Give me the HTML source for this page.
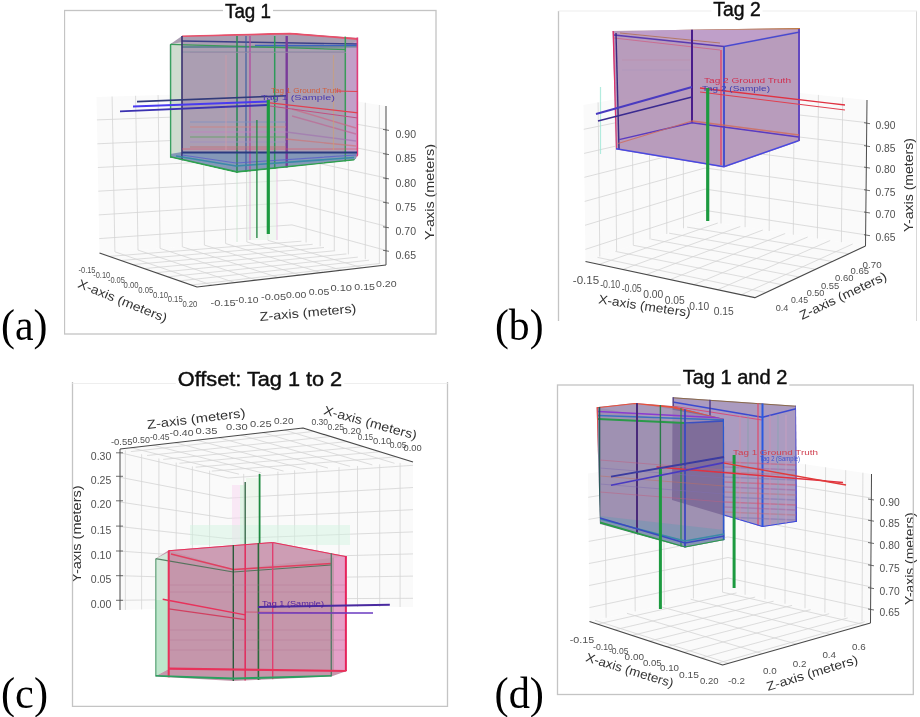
<!DOCTYPE html><html><head><meta charset="utf-8"><style>html,body{margin:0;padding:0;background:#fff;width:920px;height:717px;overflow:hidden}svg{display:block}</style></head><body>
<svg width="920" height="717" viewBox="0 0 920 717">
<defs><filter id="blur" x="0" y="0" width="1" height="1"><feGaussianBlur stdDeviation="0.55"/></filter></defs>
<rect width="920" height="717" fill="#fff"/>
<g filter="url(#blur)">
<g id="pa">
<polygon points="99.5,253.0 292.0,238.5 292.0,91.0 96.5,97.0" fill="#fafafa" stroke="none" stroke-width="1" opacity="1" />
<polygon points="292.0,238.5 386.0,265.0 386.0,106.0 292.0,91.0" fill="#fafafa" stroke="none" stroke-width="1" opacity="1" />
<polygon points="99.5,253.0 197.0,287.0 386.0,265.0 292.0,238.5" fill="#fafafa" stroke="none" stroke-width="1" opacity="1" />
<line x1="114.9" y1="251.8" x2="112.1" y2="96.5" stroke="#d4d4d4" stroke-width="0.8" opacity="1" />
<line x1="138.0" y1="250.1" x2="135.6" y2="95.8" stroke="#d4d4d4" stroke-width="0.8" opacity="1" />
<line x1="160.1" y1="248.4" x2="158.1" y2="95.1" stroke="#d4d4d4" stroke-width="0.8" opacity="1" />
<line x1="182.3" y1="246.8" x2="180.6" y2="94.4" stroke="#d4d4d4" stroke-width="0.8" opacity="1" />
<line x1="204.4" y1="245.1" x2="203.0" y2="93.7" stroke="#d4d4d4" stroke-width="0.8" opacity="1" />
<line x1="225.6" y1="243.5" x2="224.6" y2="93.1" stroke="#d4d4d4" stroke-width="0.8" opacity="1" />
<line x1="246.8" y1="241.9" x2="246.1" y2="92.4" stroke="#d4d4d4" stroke-width="0.8" opacity="1" />
<line x1="267.9" y1="240.3" x2="267.6" y2="91.8" stroke="#d4d4d4" stroke-width="0.8" opacity="1" />
<line x1="99.2" y1="238.6" x2="292.0" y2="224.9" stroke="#d4d4d4" stroke-width="0.8" opacity="1" />
<line x1="98.8" y1="214.9" x2="292.0" y2="202.5" stroke="#d4d4d4" stroke-width="0.8" opacity="1" />
<line x1="98.3" y1="191.2" x2="292.0" y2="180.1" stroke="#d4d4d4" stroke-width="0.8" opacity="1" />
<line x1="97.9" y1="167.5" x2="292.0" y2="157.7" stroke="#d4d4d4" stroke-width="0.8" opacity="1" />
<line x1="97.4" y1="143.8" x2="292.0" y2="135.2" stroke="#d4d4d4" stroke-width="0.8" opacity="1" />
<line x1="96.9" y1="119.9" x2="292.0" y2="112.7" stroke="#d4d4d4" stroke-width="0.8" opacity="1" />
<line x1="306.1" y1="242.5" x2="306.1" y2="93.2" stroke="#d4d4d4" stroke-width="0.8" opacity="1" />
<line x1="320.2" y1="246.4" x2="320.2" y2="95.5" stroke="#d4d4d4" stroke-width="0.8" opacity="1" />
<line x1="334.3" y1="250.4" x2="334.3" y2="97.8" stroke="#d4d4d4" stroke-width="0.8" opacity="1" />
<line x1="348.4" y1="254.4" x2="348.4" y2="100.0" stroke="#d4d4d4" stroke-width="0.8" opacity="1" />
<line x1="365.3" y1="259.2" x2="365.3" y2="102.7" stroke="#d4d4d4" stroke-width="0.8" opacity="1" />
<line x1="379.4" y1="263.1" x2="379.4" y2="105.0" stroke="#d4d4d4" stroke-width="0.8" opacity="1" />
<line x1="292.0" y1="224.9" x2="386.0" y2="250.4" stroke="#d4d4d4" stroke-width="0.8" opacity="1" />
<line x1="292.0" y1="202.5" x2="386.0" y2="226.2" stroke="#d4d4d4" stroke-width="0.8" opacity="1" />
<line x1="292.0" y1="180.1" x2="386.0" y2="202.0" stroke="#d4d4d4" stroke-width="0.8" opacity="1" />
<line x1="292.0" y1="157.7" x2="386.0" y2="177.9" stroke="#d4d4d4" stroke-width="0.8" opacity="1" />
<line x1="292.0" y1="135.2" x2="386.0" y2="153.7" stroke="#d4d4d4" stroke-width="0.8" opacity="1" />
<line x1="292.0" y1="112.7" x2="386.0" y2="129.4" stroke="#d4d4d4" stroke-width="0.8" opacity="1" />
<line x1="109.2" y1="256.4" x2="301.4" y2="241.2" stroke="#d4d4d4" stroke-width="0.8" opacity="1" />
<line x1="121.0" y1="260.5" x2="312.7" y2="244.3" stroke="#d4d4d4" stroke-width="0.8" opacity="1" />
<line x1="132.7" y1="264.6" x2="324.0" y2="247.5" stroke="#d4d4d4" stroke-width="0.8" opacity="1" />
<line x1="144.3" y1="268.6" x2="335.2" y2="250.7" stroke="#d4d4d4" stroke-width="0.8" opacity="1" />
<line x1="156.1" y1="272.7" x2="346.5" y2="253.9" stroke="#d4d4d4" stroke-width="0.8" opacity="1" />
<line x1="167.8" y1="276.8" x2="357.8" y2="257.1" stroke="#d4d4d4" stroke-width="0.8" opacity="1" />
<line x1="179.4" y1="280.9" x2="369.1" y2="260.2" stroke="#d4d4d4" stroke-width="0.8" opacity="1" />
<line x1="191.1" y1="285.0" x2="380.4" y2="263.4" stroke="#d4d4d4" stroke-width="0.8" opacity="1" />
<line x1="114.9" y1="251.8" x2="212.1" y2="285.2" stroke="#d4d4d4" stroke-width="0.8" opacity="1" />
<line x1="138.0" y1="250.1" x2="234.8" y2="282.6" stroke="#d4d4d4" stroke-width="0.8" opacity="1" />
<line x1="160.1" y1="248.4" x2="256.5" y2="280.1" stroke="#d4d4d4" stroke-width="0.8" opacity="1" />
<line x1="182.3" y1="246.8" x2="278.3" y2="277.5" stroke="#d4d4d4" stroke-width="0.8" opacity="1" />
<line x1="204.4" y1="245.1" x2="300.0" y2="275.0" stroke="#d4d4d4" stroke-width="0.8" opacity="1" />
<line x1="225.6" y1="243.5" x2="320.8" y2="272.6" stroke="#d4d4d4" stroke-width="0.8" opacity="1" />
<line x1="246.8" y1="241.9" x2="341.6" y2="270.2" stroke="#d4d4d4" stroke-width="0.8" opacity="1" />
<line x1="267.9" y1="240.3" x2="362.4" y2="267.8" stroke="#d4d4d4" stroke-width="0.8" opacity="1" />
<polyline points="99.5,253.0 197.0,287.0 386.0,265.0" fill="none" stroke="#4a4a4a" stroke-width="1.2" opacity="1" stroke-linejoin="round"/>
<line x1="386.0" y1="265.0" x2="386.0" y2="106.0" stroke="#4a4a4a" stroke-width="1.0" opacity="1" />
<line x1="383.0" y1="129.4" x2="389.0" y2="130.4" stroke="#4a4a4a" stroke-width="0.8" opacity="1" />
<text x="395.5" y="138.0" font-size="10.8" fill="#505050" text-anchor="start" font-family="Liberation Sans" textLength="20.5" lengthAdjust="spacingAndGlyphs" >0.90</text>
<line x1="383.0" y1="153.6" x2="389.0" y2="154.6" stroke="#4a4a4a" stroke-width="0.8" opacity="1" />
<text x="395.5" y="162.2" font-size="10.8" fill="#505050" text-anchor="start" font-family="Liberation Sans" textLength="20.5" lengthAdjust="spacingAndGlyphs" >0.85</text>
<line x1="383.0" y1="177.9" x2="389.0" y2="178.9" stroke="#4a4a4a" stroke-width="0.8" opacity="1" />
<text x="395.5" y="186.5" font-size="10.8" fill="#505050" text-anchor="start" font-family="Liberation Sans" textLength="20.5" lengthAdjust="spacingAndGlyphs" >0.80</text>
<line x1="383.0" y1="202.2" x2="389.0" y2="203.2" stroke="#4a4a4a" stroke-width="0.8" opacity="1" />
<text x="395.5" y="210.79999999999998" font-size="10.8" fill="#505050" text-anchor="start" font-family="Liberation Sans" textLength="20.5" lengthAdjust="spacingAndGlyphs" >0.75</text>
<line x1="383.0" y1="226.8" x2="389.0" y2="227.8" stroke="#4a4a4a" stroke-width="0.8" opacity="1" />
<text x="395.5" y="235.4" font-size="10.8" fill="#505050" text-anchor="start" font-family="Liberation Sans" textLength="20.5" lengthAdjust="spacingAndGlyphs" >0.70</text>
<line x1="383.0" y1="250.3" x2="389.0" y2="251.3" stroke="#4a4a4a" stroke-width="0.8" opacity="1" />
<text x="395.5" y="258.90000000000003" font-size="10.8" fill="#505050" text-anchor="start" font-family="Liberation Sans" textLength="20.5" lengthAdjust="spacingAndGlyphs" >0.65</text>
<text x="434" y="240" font-size="12.5" fill="#333" text-anchor="start" font-family="Liberation Sans" transform="rotate(-90 434 240)" textLength="96" lengthAdjust="spacingAndGlyphs" >Y-axis (meters)</text>
<text x="87.0" y="273.0" font-size="9.5" fill="#505050" text-anchor="middle" font-family="Liberation Sans" textLength="17" lengthAdjust="spacingAndGlyphs" >-0.15</text>
<text x="101.7" y="277.9" font-size="9.5" fill="#505050" text-anchor="middle" font-family="Liberation Sans" textLength="17" lengthAdjust="spacingAndGlyphs" >-0.10</text>
<text x="116.4" y="282.8" font-size="9.5" fill="#505050" text-anchor="middle" font-family="Liberation Sans" textLength="17" lengthAdjust="spacingAndGlyphs" >-0.05</text>
<text x="131.1" y="287.7" font-size="9.5" fill="#505050" text-anchor="middle" font-family="Liberation Sans" textLength="15" lengthAdjust="spacingAndGlyphs" >0.00</text>
<text x="145.8" y="292.6" font-size="9.5" fill="#505050" text-anchor="middle" font-family="Liberation Sans" textLength="15" lengthAdjust="spacingAndGlyphs" >0.05</text>
<text x="160.5" y="297.5" font-size="9.5" fill="#505050" text-anchor="middle" font-family="Liberation Sans" textLength="15" lengthAdjust="spacingAndGlyphs" >0.10</text>
<text x="175.2" y="302.4" font-size="9.5" fill="#505050" text-anchor="middle" font-family="Liberation Sans" textLength="15" lengthAdjust="spacingAndGlyphs" >0.15</text>
<text x="189.89999999999998" y="307.3" font-size="9.5" fill="#505050" text-anchor="middle" font-family="Liberation Sans" textLength="15" lengthAdjust="spacingAndGlyphs" >0.20</text>
<text x="77" y="287" font-size="12.5" fill="#333" text-anchor="start" font-family="Liberation Sans" transform="rotate(22 77 287)" textLength="95" lengthAdjust="spacingAndGlyphs" >X-axis (meters)</text>
<text x="210.5" y="305.7" font-size="9.5" fill="#505050" text-anchor="start" font-family="Liberation Sans" textLength="25.19999999999999" lengthAdjust="spacingAndGlyphs" >-0.15</text>
<text x="235" y="303.4" font-size="9.5" fill="#505050" text-anchor="start" font-family="Liberation Sans" textLength="23.5" lengthAdjust="spacingAndGlyphs" >-0.10</text>
<text x="261" y="300" font-size="9.5" fill="#505050" text-anchor="start" font-family="Liberation Sans" textLength="25" lengthAdjust="spacingAndGlyphs" >-0.05</text>
<text x="286" y="297.7" font-size="9.5" fill="#505050" text-anchor="start" font-family="Liberation Sans" textLength="20.399999999999977" lengthAdjust="spacingAndGlyphs" >0.00</text>
<text x="308.7" y="295.4" font-size="9.5" fill="#505050" text-anchor="start" font-family="Liberation Sans" textLength="20.600000000000023" lengthAdjust="spacingAndGlyphs" >0.05</text>
<text x="330.4" y="291" font-size="9.5" fill="#505050" text-anchor="start" font-family="Liberation Sans" textLength="21.600000000000023" lengthAdjust="spacingAndGlyphs" >0.10</text>
<text x="354.3" y="289.7" font-size="9.5" fill="#505050" text-anchor="start" font-family="Liberation Sans" textLength="20.69999999999999" lengthAdjust="spacingAndGlyphs" >0.15</text>
<text x="376" y="287.4" font-size="9.5" fill="#505050" text-anchor="start" font-family="Liberation Sans" textLength="20.600000000000023" lengthAdjust="spacingAndGlyphs" >0.20</text>
<text x="260" y="321" font-size="12.5" fill="#333" text-anchor="start" font-family="Liberation Sans" transform="rotate(-5 260 321)" textLength="97" lengthAdjust="spacingAndGlyphs" >Z-axis (meters)</text>
<rect x="247" y="160" width="30" height="80" fill="#e6f6e8" opacity="0.5"/>
<line x1="250.0" y1="160.0" x2="250.0" y2="240.0" stroke="#e0a0d8" stroke-width="1.0" opacity="0.7" />
<line x1="277.0" y1="160.0" x2="277.0" y2="240.0" stroke="#e8b0e0" stroke-width="1.0" opacity="0.7" />
<line x1="237.0" y1="165.0" x2="237.0" y2="242.0" stroke="#c0e0c8" stroke-width="1.0" opacity="0.7" />
<defs><clipPath id="ca"><polygon points="169.8,44.4 182,35.5 290,32.5 358.5,37.5 358.5,155 354,160.5 236.7,173 169.8,157.5"/></clipPath></defs>
<polygon points="169.8,44.4 182.0,36.0 290.0,33.0 358.0,38.0 358.0,155.0 354.0,160.0 236.7,172.0 170.0,157.0" fill="#ab9eb2" stroke="none" stroke-width="1" opacity="1" />
<polygon points="169.8,44.4 182.0,42.0 182.0,152.0 170.0,157.0" fill="#cfdccf" stroke="none" stroke-width="1" opacity="1" />
<polygon points="346.0,47.0 358.0,40.0 358.0,152.0 346.0,152.0" fill="#c29fc8" stroke="none" stroke-width="1" opacity="1" />
<polygon points="170.0,154.0 182.0,152.0 357.0,152.0 356.0,159.0 236.7,172.0 170.0,157.0" fill="#8498b8" stroke="none" stroke-width="1" opacity="1" />
<g clip-path="url(#ca)">
<polyline points="182.0,36.0 290.0,33.5 358.0,39.0" fill="none" stroke="#e8506a" stroke-width="1.8" opacity="1" stroke-linejoin="round"/>
<line x1="182.0" y1="47.0" x2="358.0" y2="46.5" stroke="#4a7a8a" stroke-width="2.2" opacity="0.7" />
<line x1="182.0" y1="41.0" x2="358.0" y2="44.0" stroke="#3a3f88" stroke-width="1.4" opacity="1" />
<line x1="255.0" y1="45.3" x2="358.0" y2="45.3" stroke="#3a64c0" stroke-width="1.2" opacity="1" />
<line x1="170.0" y1="44.4" x2="346.0" y2="49.5" stroke="#3a9a5a" stroke-width="1.4" opacity="1" />
<line x1="182.0" y1="52.0" x2="346.0" y2="52.0" stroke="#6a8a9a" stroke-width="1.0" opacity="0.6" />
<line x1="170.5" y1="36.0" x2="170.5" y2="175.0" stroke="#38a060" stroke-width="1.6" opacity="1" />
<line x1="182.0" y1="36.0" x2="182.0" y2="175.0" stroke="#3a3070" stroke-width="1.6" opacity="1" />
<line x1="237.0" y1="36.0" x2="237.0" y2="175.0" stroke="#2e8a5a" stroke-width="1.6" opacity="1" />
<line x1="246.0" y1="36.0" x2="246.0" y2="175.0" stroke="#4060a0" stroke-width="1.2" opacity="1" />
<line x1="250.0" y1="36.0" x2="250.0" y2="175.0" stroke="#b050a0" stroke-width="1.4" opacity="1" />
<line x1="274.7" y1="36.0" x2="274.7" y2="175.0" stroke="#2e9a5a" stroke-width="1.5" opacity="1" />
<line x1="286.7" y1="36.0" x2="286.7" y2="175.0" stroke="#7a3a9a" stroke-width="2.4" opacity="1" />
<line x1="345.3" y1="36.0" x2="345.3" y2="175.0" stroke="#3a9a5a" stroke-width="1.5" opacity="1" />
<line x1="357.5" y1="36.0" x2="357.5" y2="175.0" stroke="#e03a7a" stroke-width="1.8" opacity="1" />
<line x1="182.0" y1="152.5" x2="357.0" y2="152.5" stroke="#2a3a80" stroke-width="1.8" opacity="1" />
<polyline points="176.0,156.0 236.0,166.0 354.0,157.5" fill="none" stroke="#3a8aa8" stroke-width="1.6" opacity="1" stroke-linejoin="round"/>
<polyline points="182.0,155.0 236.0,163.0 356.0,155.0" fill="none" stroke="#5a60c8" stroke-width="1.2" opacity="0.8" stroke-linejoin="round"/>
<polyline points="170.0,157.0 236.7,172.0 355.0,160.0" fill="none" stroke="#2fa050" stroke-width="1.8" opacity="1" stroke-linejoin="round"/>
<line x1="182.0" y1="149.0" x2="358.0" y2="149.0" stroke="#e05060" stroke-width="1.0" opacity="0.6" />
<line x1="190.0" y1="122.0" x2="286.0" y2="122.0" stroke="#8090c0" stroke-width="1.6" opacity="0.55" />
<line x1="190.0" y1="127.0" x2="286.0" y2="127.0" stroke="#d08080" stroke-width="1.6" opacity="0.55" />
<line x1="190.0" y1="132.0" x2="286.0" y2="132.0" stroke="#c080c0" stroke-width="1.6" opacity="0.55" />
<line x1="190.0" y1="137.0" x2="286.0" y2="137.0" stroke="#60a060" stroke-width="1.6" opacity="0.55" />
<line x1="190.0" y1="142.0" x2="286.0" y2="142.0" stroke="#a090c0" stroke-width="1.6" opacity="0.55" />
<line x1="190.0" y1="147.0" x2="286.0" y2="147.0" stroke="#c07070" stroke-width="1.6" opacity="0.55" />
<line x1="292.0" y1="109.0" x2="356.0" y2="128.0" stroke="#d06080" stroke-width="1.4" opacity="0.6" />
<line x1="292.0" y1="116.0" x2="356.0" y2="134.0" stroke="#c06090" stroke-width="1.4" opacity="0.6" />
<line x1="286.0" y1="139.0" x2="356.0" y2="146.0" stroke="#d07070" stroke-width="1.4" opacity="0.6" />
<line x1="286.0" y1="132.0" x2="356.0" y2="141.0" stroke="#a070b0" stroke-width="1.4" opacity="0.6" />
<line x1="190.0" y1="52.4" x2="346.0" y2="52.4" stroke="#9a8aa8" stroke-width="1.2" opacity="0.7" />
<line x1="226.0" y1="55.0" x2="226.0" y2="150.0" stroke="#d09aa8" stroke-width="1.4" opacity="0.6" />
<line x1="333.5" y1="55.0" x2="333.5" y2="150.0" stroke="#d0a070" stroke-width="1.2" opacity="0.6" />
</g>
<line x1="137.0" y1="101.6" x2="286.0" y2="95.8" stroke="#303a7a" stroke-width="1.6" opacity="1" />
<line x1="133.0" y1="106.5" x2="268.0" y2="101.5" stroke="#4a3af0" stroke-width="2.0" opacity="1" />
<line x1="120.0" y1="111.4" x2="268.0" y2="105.0" stroke="#3a30b0" stroke-width="1.8" opacity="1" />
<text x="271" y="93" font-size="7.5" fill="#d06040" text-anchor="start" font-family="Liberation Sans" textLength="70" lengthAdjust="spacingAndGlyphs" >Tag 1 Ground Truth</text>
<line x1="336.0" y1="91.0" x2="358.0" y2="91.5" stroke="#e04050" stroke-width="1.2" opacity="1" />
<line x1="270.0" y1="102.8" x2="358.0" y2="112.9" stroke="#e04050" stroke-width="1.2" opacity="1" />
<line x1="270.0" y1="106.0" x2="358.0" y2="118.0" stroke="#c05080" stroke-width="1.0" opacity="1" />
<text x="261" y="100" font-size="8" fill="#4a3ab0" text-anchor="start" font-family="Liberation Sans" textLength="74" lengthAdjust="spacingAndGlyphs" >Tag 1 (Sample)</text>
<line x1="268.3" y1="100.0" x2="268.3" y2="234.0" stroke="#1e9a40" stroke-width="3.2" opacity="1" />
<line x1="256.9" y1="120.0" x2="256.9" y2="238.0" stroke="#2a8a4a" stroke-width="1.4" opacity="1" />
</g>
<g id="pb">
<polygon points="585.5,261.5 705.0,221.0 705.0,83.0 583.5,105.0" fill="#fafafa" stroke="none" stroke-width="1" opacity="1" />
<polygon points="705.0,221.0 865.5,246.0 867.0,100.0 705.0,83.0" fill="#fafafa" stroke="none" stroke-width="1" opacity="1" />
<polygon points="585.5,261.5 754.8,297.7 865.5,246.0 705.0,221.0" fill="#fafafa" stroke="none" stroke-width="1" opacity="1" />
<line x1="599.8" y1="256.6" x2="598.1" y2="102.4" stroke="#d4d4d4" stroke-width="0.8" opacity="1" />
<line x1="616.6" y1="251.0" x2="615.1" y2="99.3" stroke="#d4d4d4" stroke-width="0.8" opacity="1" />
<line x1="633.3" y1="245.3" x2="632.1" y2="96.2" stroke="#d4d4d4" stroke-width="0.8" opacity="1" />
<line x1="650.0" y1="239.6" x2="649.1" y2="93.1" stroke="#d4d4d4" stroke-width="0.8" opacity="1" />
<line x1="666.8" y1="234.0" x2="666.1" y2="90.0" stroke="#d4d4d4" stroke-width="0.8" opacity="1" />
<line x1="683.5" y1="228.3" x2="683.1" y2="87.0" stroke="#d4d4d4" stroke-width="0.8" opacity="1" />
<line x1="585.3" y1="249.4" x2="705.0" y2="210.4" stroke="#d4d4d4" stroke-width="0.8" opacity="1" />
<line x1="585.0" y1="225.3" x2="705.0" y2="189.1" stroke="#d4d4d4" stroke-width="0.8" opacity="1" />
<line x1="584.7" y1="201.4" x2="705.0" y2="168.0" stroke="#d4d4d4" stroke-width="0.8" opacity="1" />
<line x1="584.4" y1="177.3" x2="705.0" y2="146.8" stroke="#d4d4d4" stroke-width="0.8" opacity="1" />
<line x1="584.1" y1="153.4" x2="705.0" y2="125.6" stroke="#d4d4d4" stroke-width="0.8" opacity="1" />
<line x1="583.8" y1="129.3" x2="705.0" y2="104.4" stroke="#d4d4d4" stroke-width="0.8" opacity="1" />
<line x1="721.0" y1="223.5" x2="721.2" y2="84.7" stroke="#d4d4d4" stroke-width="0.8" opacity="1" />
<line x1="745.1" y1="227.2" x2="745.5" y2="87.2" stroke="#d4d4d4" stroke-width="0.8" opacity="1" />
<line x1="769.2" y1="231.0" x2="769.8" y2="89.8" stroke="#d4d4d4" stroke-width="0.8" opacity="1" />
<line x1="793.3" y1="234.8" x2="794.1" y2="92.3" stroke="#d4d4d4" stroke-width="0.8" opacity="1" />
<line x1="817.4" y1="238.5" x2="818.4" y2="94.9" stroke="#d4d4d4" stroke-width="0.8" opacity="1" />
<line x1="841.4" y1="242.2" x2="842.7" y2="97.5" stroke="#d4d4d4" stroke-width="0.8" opacity="1" />
<line x1="705.0" y1="210.4" x2="865.6" y2="234.8" stroke="#d4d4d4" stroke-width="0.8" opacity="1" />
<line x1="705.0" y1="189.1" x2="865.8" y2="212.3" stroke="#d4d4d4" stroke-width="0.8" opacity="1" />
<line x1="705.0" y1="168.0" x2="866.1" y2="189.9" stroke="#d4d4d4" stroke-width="0.8" opacity="1" />
<line x1="705.0" y1="146.8" x2="866.3" y2="167.5" stroke="#d4d4d4" stroke-width="0.8" opacity="1" />
<line x1="705.0" y1="125.6" x2="866.5" y2="145.1" stroke="#d4d4d4" stroke-width="0.8" opacity="1" />
<line x1="705.0" y1="104.4" x2="866.8" y2="122.6" stroke="#d4d4d4" stroke-width="0.8" opacity="1" />
<line x1="599.0" y1="264.4" x2="717.8" y2="223.0" stroke="#d4d4d4" stroke-width="0.8" opacity="1" />
<line x1="622.7" y1="269.5" x2="740.3" y2="226.5" stroke="#d4d4d4" stroke-width="0.8" opacity="1" />
<line x1="646.4" y1="274.5" x2="762.8" y2="230.0" stroke="#d4d4d4" stroke-width="0.8" opacity="1" />
<line x1="670.1" y1="279.6" x2="785.2" y2="233.5" stroke="#d4d4d4" stroke-width="0.8" opacity="1" />
<line x1="693.9" y1="284.7" x2="807.7" y2="237.0" stroke="#d4d4d4" stroke-width="0.8" opacity="1" />
<line x1="717.6" y1="289.7" x2="830.2" y2="240.5" stroke="#d4d4d4" stroke-width="0.8" opacity="1" />
<line x1="741.3" y1="294.8" x2="852.7" y2="244.0" stroke="#d4d4d4" stroke-width="0.8" opacity="1" />
<line x1="597.5" y1="257.4" x2="765.9" y2="292.5" stroke="#d4d4d4" stroke-width="0.8" opacity="1" />
<line x1="615.4" y1="251.4" x2="782.5" y2="284.8" stroke="#d4d4d4" stroke-width="0.8" opacity="1" />
<line x1="633.3" y1="245.3" x2="799.1" y2="277.0" stroke="#d4d4d4" stroke-width="0.8" opacity="1" />
<line x1="651.2" y1="239.2" x2="815.7" y2="269.3" stroke="#d4d4d4" stroke-width="0.8" opacity="1" />
<line x1="669.1" y1="233.2" x2="832.3" y2="261.5" stroke="#d4d4d4" stroke-width="0.8" opacity="1" />
<line x1="687.1" y1="227.1" x2="848.9" y2="253.8" stroke="#d4d4d4" stroke-width="0.8" opacity="1" />
<polyline points="585.5,261.5 754.8,297.7 865.5,246.0" fill="none" stroke="#4a4a4a" stroke-width="1.2" opacity="1" stroke-linejoin="round"/>
<line x1="865.5" y1="246.0" x2="867.0" y2="100.0" stroke="#4a4a4a" stroke-width="1.0" opacity="1" />
<line x1="864.0" y1="122.7" x2="870.0" y2="123.7" stroke="#4a4a4a" stroke-width="0.8" opacity="1" />
<text x="875.5" y="129.0" font-size="10.8" fill="#505050" text-anchor="start" font-family="Liberation Sans" textLength="20" lengthAdjust="spacingAndGlyphs" >0.90</text>
<line x1="864.0" y1="145.6" x2="870.0" y2="146.6" stroke="#4a4a4a" stroke-width="0.8" opacity="1" />
<text x="875.5" y="151.9" font-size="10.8" fill="#505050" text-anchor="start" font-family="Liberation Sans" textLength="20" lengthAdjust="spacingAndGlyphs" >0.85</text>
<line x1="864.0" y1="167.1" x2="870.0" y2="168.1" stroke="#4a4a4a" stroke-width="0.8" opacity="1" />
<text x="875.5" y="173.4" font-size="10.8" fill="#505050" text-anchor="start" font-family="Liberation Sans" textLength="20" lengthAdjust="spacingAndGlyphs" >0.80</text>
<line x1="864.0" y1="189.7" x2="870.0" y2="190.7" stroke="#4a4a4a" stroke-width="0.8" opacity="1" />
<text x="875.5" y="196.0" font-size="10.8" fill="#505050" text-anchor="start" font-family="Liberation Sans" textLength="20" lengthAdjust="spacingAndGlyphs" >0.75</text>
<line x1="864.0" y1="212.0" x2="870.0" y2="213.0" stroke="#4a4a4a" stroke-width="0.8" opacity="1" />
<text x="875.5" y="218.3" font-size="10.8" fill="#505050" text-anchor="start" font-family="Liberation Sans" textLength="20" lengthAdjust="spacingAndGlyphs" >0.70</text>
<line x1="864.0" y1="234.7" x2="870.0" y2="235.7" stroke="#4a4a4a" stroke-width="0.8" opacity="1" />
<text x="875.5" y="241.0" font-size="10.8" fill="#505050" text-anchor="start" font-family="Liberation Sans" textLength="20" lengthAdjust="spacingAndGlyphs" >0.65</text>
<text x="912.5" y="232" font-size="12.5" fill="#333" text-anchor="start" font-family="Liberation Sans" transform="rotate(-90 912.5 232)" textLength="94" lengthAdjust="spacingAndGlyphs" >Y-axis (meters)</text>
<text x="572.8" y="283.5" font-size="10" fill="#505050" text-anchor="start" font-family="Liberation Sans" textLength="26.4" lengthAdjust="spacingAndGlyphs" >-0.15</text>
<text x="600.2" y="288.4" font-size="10" fill="#505050" text-anchor="start" font-family="Liberation Sans" textLength="20" lengthAdjust="spacingAndGlyphs" >-0.10</text>
<text x="621.7" y="292.3" font-size="10" fill="#505050" text-anchor="start" font-family="Liberation Sans" textLength="20" lengthAdjust="spacingAndGlyphs" >-0.05</text>
<text x="643.3" y="298.2" font-size="10" fill="#505050" text-anchor="start" font-family="Liberation Sans" textLength="20" lengthAdjust="spacingAndGlyphs" >0.00</text>
<text x="664.8" y="304" font-size="10" fill="#505050" text-anchor="start" font-family="Liberation Sans" textLength="20" lengthAdjust="spacingAndGlyphs" >0.05</text>
<text x="689.2" y="309.9" font-size="10" fill="#505050" text-anchor="start" font-family="Liberation Sans" textLength="20" lengthAdjust="spacingAndGlyphs" >0.10</text>
<text x="713.7" y="314.8" font-size="10" fill="#505050" text-anchor="start" font-family="Liberation Sans" textLength="20" lengthAdjust="spacingAndGlyphs" >0.15</text>
<text x="598" y="303.3" font-size="12.5" fill="#333" text-anchor="start" font-family="Liberation Sans" transform="rotate(8.5 598 303.3)" textLength="93" lengthAdjust="spacingAndGlyphs" >X-axis (meters)</text>
<text x="775.7" y="310.7" font-size="9.8" fill="#505050" text-anchor="start" font-family="Liberation Sans" textLength="12.7" lengthAdjust="spacingAndGlyphs" >0.4</text>
<text x="791" y="302.9" font-size="9.8" fill="#505050" text-anchor="start" font-family="Liberation Sans" textLength="17" lengthAdjust="spacingAndGlyphs" >0.45</text>
<text x="806.7" y="295.9" font-size="9.8" fill="#505050" text-anchor="start" font-family="Liberation Sans" textLength="17.7" lengthAdjust="spacingAndGlyphs" >0.50</text>
<text x="820.9" y="288.8" font-size="9.8" fill="#505050" text-anchor="start" font-family="Liberation Sans" textLength="18.3" lengthAdjust="spacingAndGlyphs" >0.55</text>
<text x="835" y="280.7" font-size="9.8" fill="#505050" text-anchor="start" font-family="Liberation Sans" textLength="18.4" lengthAdjust="spacingAndGlyphs" >0.60</text>
<text x="850.5" y="273.6" font-size="9.8" fill="#505050" text-anchor="start" font-family="Liberation Sans" textLength="18.5" lengthAdjust="spacingAndGlyphs" >0.65</text>
<text x="862.6" y="267.7" font-size="9.8" fill="#505050" text-anchor="start" font-family="Liberation Sans" textLength="19" lengthAdjust="spacingAndGlyphs" >0.70</text>
<text x="802" y="320" font-size="12.5" fill="#333" text-anchor="start" font-family="Liberation Sans" transform="rotate(-25.5 802 320)" textLength="95" lengthAdjust="spacingAndGlyphs" >Z-axis (meters)</text>
<defs><clipPath id="cb"><polygon points="612.5,31.0 800.0,28.0 800.0,141.0 724.0,167.5 616.0,149.5"/></clipPath></defs>
<polygon points="612.5,31.0 800.0,28.0 800.0,141.0 724.0,167.5 616.0,149.5" fill="#b89cbc" stroke="none" stroke-width="1" opacity="1" />
<g clip-path="url(#cb)">
<polygon points="614.0,33.0 692.0,28.0 800.0,30.0 724.0,46.5" fill="#c0a0cc" stroke="none" stroke-width="1" opacity="0.8" />
<line x1="612.0" y1="29.5" x2="800.0" y2="28.5" stroke="#c07a40" stroke-width="1.6" opacity="1" />
<line x1="614.0" y1="35.0" x2="724.0" y2="46.5" stroke="#5a3ab0" stroke-width="1.6" opacity="1" />
<line x1="620.0" y1="33.0" x2="720.0" y2="43.0" stroke="#b07050" stroke-width="1.2" opacity="0.8" />
<line x1="724.0" y1="46.5" x2="800.0" y2="32.0" stroke="#4a4ad0" stroke-width="1.6" opacity="1" />
<line x1="614.0" y1="38.0" x2="720.0" y2="50.0" stroke="#d05a80" stroke-width="1.0" opacity="0.7" />
<line x1="613.0" y1="31.0" x2="616.0" y2="149.0" stroke="#e0306a" stroke-width="1.8" opacity="1" />
<line x1="616.0" y1="33.0" x2="619.0" y2="149.0" stroke="#3a2a80" stroke-width="1.4" opacity="1" />
<line x1="799.0" y1="29.0" x2="799.0" y2="141.0" stroke="#5a40c0" stroke-width="1.8" opacity="1" />
<line x1="724.0" y1="46.5" x2="724.0" y2="167.0" stroke="#3a4ad0" stroke-width="1.8" opacity="1" />
<line x1="721.0" y1="50.0" x2="721.0" y2="165.0" stroke="#e04a6a" stroke-width="1.4" opacity="1" />
<line x1="692.0" y1="28.0" x2="692.0" y2="123.0" stroke="#4a1a8a" stroke-width="2.0" opacity="1" />
<polyline points="616.0,149.0 724.0,167.0 798.5,141.0" fill="none" stroke="#4a4ae0" stroke-width="2.0" opacity="1" stroke-linejoin="round"/>
<polyline points="619.0,139.6 692.0,122.8 798.5,137.0" fill="none" stroke="#5a3ac0" stroke-width="1.4" opacity="1" stroke-linejoin="round"/>
<polyline points="618.0,143.5 692.0,121.0 799.0,135.0" fill="none" stroke="#d06a5a" stroke-width="1.3" opacity="0.8" stroke-linejoin="round"/>
<line x1="622.0" y1="60.0" x2="690.0" y2="60.0" stroke="#c08aa0" stroke-width="1.2" opacity="0.4" />
<line x1="622.0" y1="70.0" x2="690.0" y2="70.0" stroke="#a89ac0" stroke-width="1.2" opacity="0.4" />
<line x1="622.0" y1="100.0" x2="690.0" y2="100.0" stroke="#c0a0c0" stroke-width="1.2" opacity="0.4" />
</g>
<line x1="600.5" y1="87.0" x2="600.5" y2="154.0" stroke="#a0e8d8" stroke-width="1.2" opacity="0.8" />
<line x1="596.0" y1="114.0" x2="692.0" y2="87.0" stroke="#4a3ac0" stroke-width="2.0" opacity="1" />
<line x1="598.0" y1="121.0" x2="692.0" y2="97.0" stroke="#3a2a90" stroke-width="1.6" opacity="1" />
<line x1="700.0" y1="88.0" x2="845.0" y2="105.0" stroke="#e03040" stroke-width="1.4" opacity="1" />
<line x1="700.0" y1="92.0" x2="845.0" y2="110.0" stroke="#e04050" stroke-width="1.2" opacity="1" />
<text x="704" y="83" font-size="8" fill="#d03050" text-anchor="start" font-family="Liberation Sans" textLength="87" lengthAdjust="spacingAndGlyphs" >Tag 2 Ground Truth</text>
<text x="702" y="91" font-size="7.5" fill="#4040b0" text-anchor="start" font-family="Liberation Sans" textLength="68" lengthAdjust="spacingAndGlyphs" >Tag 2 (Sample)</text>
<line x1="707.7" y1="88.0" x2="707.7" y2="221.0" stroke="#1e9a40" stroke-width="3.2" opacity="1" />
</g>
<g id="pc">
<polygon points="120.0,449.0 303.0,428.0 413.0,462.0 228.0,475.0" fill="#fafafa" stroke="none" stroke-width="1" opacity="1" />
<polygon points="120.0,610.0 228.0,607.0 228.0,475.0 120.0,449.0" fill="#fafafa" stroke="none" stroke-width="1" opacity="1" />
<polygon points="228.0,607.0 413.0,607.0 413.0,462.0 228.0,475.0" fill="#fafafa" stroke="none" stroke-width="1" opacity="1" />
<line x1="125.4" y1="609.9" x2="125.4" y2="450.3" stroke="#d4d4d4" stroke-width="0.8" opacity="1" />
<line x1="141.6" y1="609.4" x2="141.6" y2="454.2" stroke="#d4d4d4" stroke-width="0.8" opacity="1" />
<line x1="158.9" y1="608.9" x2="158.9" y2="458.4" stroke="#d4d4d4" stroke-width="0.8" opacity="1" />
<line x1="176.2" y1="608.4" x2="176.2" y2="462.5" stroke="#d4d4d4" stroke-width="0.8" opacity="1" />
<line x1="192.4" y1="608.0" x2="192.4" y2="466.4" stroke="#d4d4d4" stroke-width="0.8" opacity="1" />
<line x1="209.6" y1="607.5" x2="209.6" y2="470.6" stroke="#d4d4d4" stroke-width="0.8" opacity="1" />
<line x1="120.0" y1="600.3" x2="228.0" y2="599.1" stroke="#d4d4d4" stroke-width="0.8" opacity="1" />
<line x1="120.0" y1="575.7" x2="228.0" y2="578.9" stroke="#d4d4d4" stroke-width="0.8" opacity="1" />
<line x1="120.0" y1="551.1" x2="228.0" y2="558.7" stroke="#d4d4d4" stroke-width="0.8" opacity="1" />
<line x1="120.0" y1="526.6" x2="228.0" y2="538.6" stroke="#d4d4d4" stroke-width="0.8" opacity="1" />
<line x1="120.0" y1="502.0" x2="228.0" y2="518.4" stroke="#d4d4d4" stroke-width="0.8" opacity="1" />
<line x1="120.0" y1="477.3" x2="228.0" y2="498.2" stroke="#d4d4d4" stroke-width="0.8" opacity="1" />
<line x1="120.0" y1="452.7" x2="228.0" y2="478.0" stroke="#d4d4d4" stroke-width="0.8" opacity="1" />
<line x1="243.7" y1="607.0" x2="243.7" y2="473.9" stroke="#d4d4d4" stroke-width="0.8" opacity="1" />
<line x1="259.4" y1="607.0" x2="259.4" y2="472.8" stroke="#d4d4d4" stroke-width="0.8" opacity="1" />
<line x1="277.9" y1="607.0" x2="277.9" y2="471.5" stroke="#d4d4d4" stroke-width="0.8" opacity="1" />
<line x1="294.6" y1="607.0" x2="294.6" y2="470.3" stroke="#d4d4d4" stroke-width="0.8" opacity="1" />
<line x1="316.8" y1="607.0" x2="316.8" y2="468.8" stroke="#d4d4d4" stroke-width="0.8" opacity="1" />
<line x1="339.0" y1="607.0" x2="339.0" y2="467.2" stroke="#d4d4d4" stroke-width="0.8" opacity="1" />
<line x1="357.5" y1="607.0" x2="357.5" y2="465.9" stroke="#d4d4d4" stroke-width="0.8" opacity="1" />
<line x1="379.7" y1="607.0" x2="379.7" y2="464.3" stroke="#d4d4d4" stroke-width="0.8" opacity="1" />
<line x1="400.1" y1="607.0" x2="400.1" y2="462.9" stroke="#d4d4d4" stroke-width="0.8" opacity="1" />
<line x1="228.0" y1="599.1" x2="413.0" y2="598.3" stroke="#d4d4d4" stroke-width="0.8" opacity="1" />
<line x1="228.0" y1="578.9" x2="413.0" y2="576.1" stroke="#d4d4d4" stroke-width="0.8" opacity="1" />
<line x1="228.0" y1="558.7" x2="413.0" y2="553.9" stroke="#d4d4d4" stroke-width="0.8" opacity="1" />
<line x1="228.0" y1="538.6" x2="413.0" y2="531.9" stroke="#d4d4d4" stroke-width="0.8" opacity="1" />
<line x1="228.0" y1="518.4" x2="413.0" y2="509.7" stroke="#d4d4d4" stroke-width="0.8" opacity="1" />
<line x1="228.0" y1="498.2" x2="413.0" y2="487.5" stroke="#d4d4d4" stroke-width="0.8" opacity="1" />
<line x1="228.0" y1="478.0" x2="413.0" y2="465.3" stroke="#d4d4d4" stroke-width="0.8" opacity="1" />
<line x1="131.0" y1="447.7" x2="239.1" y2="474.2" stroke="#d4d4d4" stroke-width="0.8" opacity="1" />
<line x1="152.9" y1="445.2" x2="261.3" y2="472.7" stroke="#d4d4d4" stroke-width="0.8" opacity="1" />
<line x1="174.9" y1="442.7" x2="283.5" y2="471.1" stroke="#d4d4d4" stroke-width="0.8" opacity="1" />
<line x1="196.9" y1="440.2" x2="305.7" y2="469.5" stroke="#d4d4d4" stroke-width="0.8" opacity="1" />
<line x1="218.8" y1="437.7" x2="327.9" y2="468.0" stroke="#d4d4d4" stroke-width="0.8" opacity="1" />
<line x1="240.8" y1="435.1" x2="350.1" y2="466.4" stroke="#d4d4d4" stroke-width="0.8" opacity="1" />
<line x1="262.7" y1="432.6" x2="372.3" y2="464.9" stroke="#d4d4d4" stroke-width="0.8" opacity="1" />
<line x1="284.7" y1="430.1" x2="394.5" y2="463.3" stroke="#d4d4d4" stroke-width="0.8" opacity="1" />
<line x1="130.8" y1="451.6" x2="314.0" y2="431.4" stroke="#d4d4d4" stroke-width="0.8" opacity="1" />
<line x1="147.0" y1="455.5" x2="330.5" y2="436.5" stroke="#d4d4d4" stroke-width="0.8" opacity="1" />
<line x1="163.2" y1="459.4" x2="347.0" y2="441.6" stroke="#d4d4d4" stroke-width="0.8" opacity="1" />
<line x1="179.4" y1="463.3" x2="363.5" y2="446.7" stroke="#d4d4d4" stroke-width="0.8" opacity="1" />
<line x1="195.6" y1="467.2" x2="380.0" y2="451.8" stroke="#d4d4d4" stroke-width="0.8" opacity="1" />
<line x1="211.8" y1="471.1" x2="396.5" y2="456.9" stroke="#d4d4d4" stroke-width="0.8" opacity="1" />
<polyline points="120.0,449.0 303.0,428.0 413.0,462.0" fill="none" stroke="#4a4a4a" stroke-width="1.2" opacity="1" stroke-linejoin="round"/>
<line x1="120.0" y1="449.0" x2="120.0" y2="610.0" stroke="#4a4a4a" stroke-width="1.0" opacity="1" />
<line x1="116.0" y1="452.8" x2="123.0" y2="452.8" stroke="#4a4a4a" stroke-width="0.8" opacity="1" />
<text x="90.8" y="460.40000000000003" font-size="10.8" fill="#505050" text-anchor="start" font-family="Liberation Sans" textLength="20.5" lengthAdjust="spacingAndGlyphs" >0.30</text>
<line x1="116.0" y1="476.3" x2="123.0" y2="476.3" stroke="#4a4a4a" stroke-width="0.8" opacity="1" />
<text x="90.8" y="483.90000000000003" font-size="10.8" fill="#505050" text-anchor="start" font-family="Liberation Sans" textLength="20.5" lengthAdjust="spacingAndGlyphs" >0.25</text>
<line x1="116.0" y1="500.8" x2="123.0" y2="500.8" stroke="#4a4a4a" stroke-width="0.8" opacity="1" />
<text x="90.8" y="508.40000000000003" font-size="10.8" fill="#505050" text-anchor="start" font-family="Liberation Sans" textLength="20.5" lengthAdjust="spacingAndGlyphs" >0.20</text>
<line x1="116.0" y1="526.1" x2="123.0" y2="526.1" stroke="#4a4a4a" stroke-width="0.8" opacity="1" />
<text x="90.8" y="533.7" font-size="10.8" fill="#505050" text-anchor="start" font-family="Liberation Sans" textLength="20.5" lengthAdjust="spacingAndGlyphs" >0.15</text>
<line x1="116.0" y1="551.0" x2="123.0" y2="551.0" stroke="#4a4a4a" stroke-width="0.8" opacity="1" />
<text x="90.8" y="558.6" font-size="10.8" fill="#505050" text-anchor="start" font-family="Liberation Sans" textLength="20.5" lengthAdjust="spacingAndGlyphs" >0.10</text>
<line x1="116.0" y1="575.7" x2="123.0" y2="575.7" stroke="#4a4a4a" stroke-width="0.8" opacity="1" />
<text x="90.8" y="583.3000000000001" font-size="10.8" fill="#505050" text-anchor="start" font-family="Liberation Sans" textLength="20.5" lengthAdjust="spacingAndGlyphs" >0.05</text>
<line x1="116.0" y1="600.3" x2="123.0" y2="600.3" stroke="#4a4a4a" stroke-width="0.8" opacity="1" />
<text x="90.8" y="607.9" font-size="10.8" fill="#505050" text-anchor="start" font-family="Liberation Sans" textLength="20.5" lengthAdjust="spacingAndGlyphs" >0.00</text>
<text x="81" y="582.4" font-size="12.5" fill="#333" text-anchor="start" font-family="Liberation Sans" transform="rotate(-90 81 582.4)" textLength="97" lengthAdjust="spacingAndGlyphs" >Y-axis (meters)</text>
<text x="110.9" y="444.5" font-size="9.8" fill="#505050" text-anchor="start" font-family="Liberation Sans" textLength="21.69999999999999" lengthAdjust="spacingAndGlyphs" >-0.55</text>
<text x="132.6" y="442.7" font-size="9.8" fill="#505050" text-anchor="start" font-family="Liberation Sans" textLength="17.400000000000006" lengthAdjust="spacingAndGlyphs" >0.50</text>
<text x="150" y="440.3" font-size="9.8" fill="#505050" text-anchor="start" font-family="Liberation Sans" textLength="19.599999999999994" lengthAdjust="spacingAndGlyphs" >-0.45</text>
<text x="169.6" y="436.0" font-size="9.8" fill="#505050" text-anchor="start" font-family="Liberation Sans" textLength="23.900000000000006" lengthAdjust="spacingAndGlyphs" >-0.40</text>
<text x="195.6" y="433.8" font-size="9.8" fill="#505050" text-anchor="start" font-family="Liberation Sans" textLength="21.80000000000001" lengthAdjust="spacingAndGlyphs" >0.35</text>
<text x="226" y="429.5" font-size="9.8" fill="#505050" text-anchor="start" font-family="Liberation Sans" textLength="21.80000000000001" lengthAdjust="spacingAndGlyphs" >0.30</text>
<text x="250" y="427.3" font-size="9.8" fill="#505050" text-anchor="start" font-family="Liberation Sans" textLength="21.69999999999999" lengthAdjust="spacingAndGlyphs" >0.25</text>
<text x="274" y="424.2" font-size="9.8" fill="#505050" text-anchor="start" font-family="Liberation Sans" textLength="19.5" lengthAdjust="spacingAndGlyphs" >0.20</text>
<text x="147.5" y="429" font-size="12.5" fill="#333" text-anchor="start" font-family="Liberation Sans" transform="rotate(-7 147.5 429)" textLength="99" lengthAdjust="spacingAndGlyphs" >Z-axis (meters)</text>
<text x="311.4" y="424.5" font-size="9.8" fill="#505050" text-anchor="start" font-family="Liberation Sans" textLength="16.600000000000023" lengthAdjust="spacingAndGlyphs" >0.30</text>
<text x="327.4" y="429.5" font-size="9.8" fill="#505050" text-anchor="start" font-family="Liberation Sans" textLength="16.600000000000023" lengthAdjust="spacingAndGlyphs" >0.25</text>
<text x="342.6" y="434.0" font-size="9.8" fill="#505050" text-anchor="start" font-family="Liberation Sans" textLength="18.399999999999977" lengthAdjust="spacingAndGlyphs" >0.20</text>
<text x="357.8" y="439.5" font-size="9.8" fill="#505050" text-anchor="start" font-family="Liberation Sans" textLength="15.199999999999989" lengthAdjust="spacingAndGlyphs" >0.15</text>
<text x="373" y="443.5" font-size="9.8" fill="#505050" text-anchor="start" font-family="Liberation Sans" textLength="18.30000000000001" lengthAdjust="spacingAndGlyphs" >0.10</text>
<text x="389.8" y="447.5" font-size="9.8" fill="#505050" text-anchor="start" font-family="Liberation Sans" textLength="16.69999999999999" lengthAdjust="spacingAndGlyphs" >0.05</text>
<text x="403.5" y="451.0" font-size="9.8" fill="#505050" text-anchor="start" font-family="Liberation Sans" textLength="18.19999999999999" lengthAdjust="spacingAndGlyphs" >0.00</text>
<text x="323" y="414" font-size="12.5" fill="#333" text-anchor="start" font-family="Liberation Sans" transform="rotate(15.5 323 414)" textLength="96" lengthAdjust="spacingAndGlyphs" >X-axis (meters)</text>
<rect x="232" y="485" width="8" height="60" fill="#f8d8f0" opacity="0.55"/>
<rect x="240" y="485" width="5" height="60" fill="#c8f0d4" opacity="0.55"/>
<rect x="246" y="478" width="13" height="67" fill="#e0f4e0" opacity="0.5"/>
<rect x="190" y="525" width="160" height="20" fill="#d0f4e0" opacity="0.45"/>
<line x1="245.2" y1="482.0" x2="245.2" y2="680.0" stroke="#3a6a4a" stroke-width="1.4" opacity="1" />
<line x1="259.6" y1="474.0" x2="259.6" y2="680.0" stroke="#1e8a40" stroke-width="1.8" opacity="1" />
<defs><clipPath id="cc"><polygon points="155.5,558.7 168.7,550.3 272.7,542.0 346.8,556.3 346.8,671.0 331.3,676.5 233.3,681.0 155.5,676.5"/></clipPath></defs>
<polygon points="155.5,558.7 168.7,550.3 272.7,542.0 346.8,556.3 346.8,671.0 331.3,676.5 233.3,681.0 155.5,676.5" fill="#c596ab" stroke="none" stroke-width="1" opacity="1" />
<polygon points="155.5,558.7 168.7,552.0 168.7,669.0 155.5,676.0" fill="#d4eadb" stroke="none" stroke-width="1" opacity="1" />
<polygon points="155.5,600.0 168.7,600.0 168.7,669.0 155.5,676.0" fill="#bde6cb" stroke="none" stroke-width="1" opacity="1" />
<polygon points="334.0,556.0 346.8,556.3 346.8,671.0 334.0,671.0" fill="#e4a0c8" stroke="none" stroke-width="1" opacity="1" />
<g clip-path="url(#cc)">
<polygon points="168.7,550.3 272.7,542.0 346.8,556.3 233.3,569.5" fill="#d0a0b8" stroke="none" stroke-width="1" opacity="0.7" />
<polyline points="168.7,550.3 272.7,542.0 346.8,556.3" fill="none" stroke="#e8305a" stroke-width="2.0" opacity="1" stroke-linejoin="round"/>
<polyline points="171.0,554.0 233.3,569.5 331.3,563.5" fill="none" stroke="#e04060" stroke-width="1.4" opacity="1" stroke-linejoin="round"/>
<polyline points="155.5,558.7 233.3,572.0 331.3,565.0" fill="none" stroke="#3a6a4a" stroke-width="1.2" opacity="0.8" stroke-linejoin="round"/>
<line x1="155.5" y1="540.0" x2="155.5" y2="685.0" stroke="#2a8a50" stroke-width="1.6" opacity="1" />
<line x1="168.7" y1="540.0" x2="168.7" y2="685.0" stroke="#e8305a" stroke-width="2.0" opacity="1" />
<line x1="233.3" y1="540.0" x2="233.3" y2="685.0" stroke="#2a5a3a" stroke-width="1.4" opacity="1" />
<line x1="245.2" y1="540.0" x2="245.2" y2="685.0" stroke="#e03060" stroke-width="1.6" opacity="1" />
<line x1="258.4" y1="540.0" x2="258.4" y2="685.0" stroke="#2a6a3a" stroke-width="1.6" opacity="1" />
<line x1="272.7" y1="540.0" x2="272.7" y2="685.0" stroke="#e04070" stroke-width="1.4" opacity="1" />
<line x1="331.3" y1="540.0" x2="331.3" y2="685.0" stroke="#5a7a6a" stroke-width="1.4" opacity="1" />
<line x1="346.0" y1="540.0" x2="346.0" y2="685.0" stroke="#e8205a" stroke-width="2.2" opacity="1" />
<line x1="168.7" y1="668.7" x2="346.8" y2="671.0" stroke="#e8305a" stroke-width="2.2" opacity="1" />
<polyline points="155.5,676.0 233.3,678.5 331.3,676.0" fill="none" stroke="#2aa060" stroke-width="2.2" opacity="1" stroke-linejoin="round"/>
<line x1="162.7" y1="599.3" x2="245.2" y2="614.9" stroke="#e8305a" stroke-width="1.4" opacity="1" />
<line x1="168.7" y1="608.9" x2="245.2" y2="619.7" stroke="#d04060" stroke-width="1.2" opacity="1" />
<line x1="245.0" y1="612.0" x2="346.0" y2="613.0" stroke="#d04060" stroke-width="1.0" opacity="0.7" />
<line x1="170.0" y1="585.0" x2="345.0" y2="585.0" stroke="#b07090" stroke-width="1.0" opacity="0.35" />
<line x1="170.0" y1="592.0" x2="345.0" y2="592.0" stroke="#b07090" stroke-width="1.0" opacity="0.35" />
<line x1="170.0" y1="630.0" x2="345.0" y2="630.0" stroke="#b07090" stroke-width="1.0" opacity="0.35" />
<line x1="170.0" y1="640.0" x2="345.0" y2="640.0" stroke="#b07090" stroke-width="1.0" opacity="0.35" />
<line x1="170.0" y1="650.0" x2="345.0" y2="650.0" stroke="#b07090" stroke-width="1.0" opacity="0.35" />
</g>
<line x1="258.0" y1="607.0" x2="389.8" y2="604.7" stroke="#4a2aa0" stroke-width="2.0" opacity="1" />
<line x1="258.0" y1="613.0" x2="373.0" y2="613.0" stroke="#6a3ac0" stroke-width="1.6" opacity="1" />
<text x="262" y="606" font-size="7.5" fill="#5020a0" text-anchor="start" font-family="Liberation Sans" textLength="62" lengthAdjust="spacingAndGlyphs" >Tag 1 (Sample)</text>
</g>
<g id="pd">
<polygon points="589.5,621.5 728.0,591.0 728.0,453.0 588.0,473.5" fill="#fafafa" stroke="none" stroke-width="1" opacity="1" />
<polygon points="728.0,591.0 870.5,623.0 871.5,474.0 728.0,453.0" fill="#fafafa" stroke="none" stroke-width="1" opacity="1" />
<polygon points="589.5,621.5 722.6,665.0 870.5,623.0 728.0,591.0" fill="#fafafa" stroke="none" stroke-width="1" opacity="1" />
<line x1="606.1" y1="617.8" x2="604.8" y2="471.0" stroke="#d4d4d4" stroke-width="0.8" opacity="1" />
<line x1="635.2" y1="611.4" x2="634.2" y2="466.7" stroke="#d4d4d4" stroke-width="0.8" opacity="1" />
<line x1="664.3" y1="605.0" x2="663.6" y2="462.4" stroke="#d4d4d4" stroke-width="0.8" opacity="1" />
<line x1="693.4" y1="598.6" x2="693.0" y2="458.1" stroke="#d4d4d4" stroke-width="0.8" opacity="1" />
<line x1="722.5" y1="592.2" x2="722.4" y2="453.8" stroke="#d4d4d4" stroke-width="0.8" opacity="1" />
<line x1="589.4" y1="607.6" x2="728.0" y2="578.0" stroke="#d4d4d4" stroke-width="0.8" opacity="1" />
<line x1="589.1" y1="585.5" x2="728.0" y2="557.5" stroke="#d4d4d4" stroke-width="0.8" opacity="1" />
<line x1="588.9" y1="563.5" x2="728.0" y2="536.9" stroke="#d4d4d4" stroke-width="0.8" opacity="1" />
<line x1="588.7" y1="541.4" x2="728.0" y2="516.3" stroke="#d4d4d4" stroke-width="0.8" opacity="1" />
<line x1="588.5" y1="519.4" x2="728.0" y2="495.8" stroke="#d4d4d4" stroke-width="0.8" opacity="1" />
<line x1="588.2" y1="497.3" x2="728.0" y2="475.2" stroke="#d4d4d4" stroke-width="0.8" opacity="1" />
<line x1="745.1" y1="594.8" x2="745.2" y2="455.5" stroke="#d4d4d4" stroke-width="0.8" opacity="1" />
<line x1="765.0" y1="599.3" x2="765.3" y2="458.5" stroke="#d4d4d4" stroke-width="0.8" opacity="1" />
<line x1="785.0" y1="603.8" x2="785.4" y2="461.4" stroke="#d4d4d4" stroke-width="0.8" opacity="1" />
<line x1="805.0" y1="608.3" x2="805.5" y2="464.3" stroke="#d4d4d4" stroke-width="0.8" opacity="1" />
<line x1="824.9" y1="612.8" x2="825.6" y2="467.3" stroke="#d4d4d4" stroke-width="0.8" opacity="1" />
<line x1="844.9" y1="617.2" x2="845.7" y2="470.2" stroke="#d4d4d4" stroke-width="0.8" opacity="1" />
<line x1="862.0" y1="621.1" x2="862.9" y2="472.7" stroke="#d4d4d4" stroke-width="0.8" opacity="1" />
<line x1="728.0" y1="578.0" x2="870.6" y2="609.0" stroke="#d4d4d4" stroke-width="0.8" opacity="1" />
<line x1="728.0" y1="557.5" x2="870.7" y2="586.8" stroke="#d4d4d4" stroke-width="0.8" opacity="1" />
<line x1="728.0" y1="536.9" x2="870.9" y2="564.6" stroke="#d4d4d4" stroke-width="0.8" opacity="1" />
<line x1="728.0" y1="516.3" x2="871.0" y2="542.4" stroke="#d4d4d4" stroke-width="0.8" opacity="1" />
<line x1="728.0" y1="495.8" x2="871.2" y2="520.2" stroke="#d4d4d4" stroke-width="0.8" opacity="1" />
<line x1="728.0" y1="475.2" x2="871.3" y2="498.0" stroke="#d4d4d4" stroke-width="0.8" opacity="1" />
<line x1="597.5" y1="624.1" x2="736.5" y2="592.9" stroke="#d4d4d4" stroke-width="0.8" opacity="1" />
<line x1="614.8" y1="629.8" x2="755.1" y2="597.1" stroke="#d4d4d4" stroke-width="0.8" opacity="1" />
<line x1="632.1" y1="635.4" x2="773.6" y2="601.2" stroke="#d4d4d4" stroke-width="0.8" opacity="1" />
<line x1="649.4" y1="641.1" x2="792.1" y2="605.4" stroke="#d4d4d4" stroke-width="0.8" opacity="1" />
<line x1="666.7" y1="646.7" x2="810.6" y2="609.6" stroke="#d4d4d4" stroke-width="0.8" opacity="1" />
<line x1="684.0" y1="652.4" x2="829.2" y2="613.7" stroke="#d4d4d4" stroke-width="0.8" opacity="1" />
<line x1="701.3" y1="658.0" x2="847.7" y2="617.9" stroke="#d4d4d4" stroke-width="0.8" opacity="1" />
<line x1="717.3" y1="663.3" x2="864.8" y2="621.7" stroke="#d4d4d4" stroke-width="0.8" opacity="1" />
<line x1="595.0" y1="620.3" x2="728.5" y2="663.3" stroke="#d4d4d4" stroke-width="0.8" opacity="1" />
<line x1="626.9" y1="613.3" x2="762.5" y2="653.7" stroke="#d4d4d4" stroke-width="0.8" opacity="1" />
<line x1="658.8" y1="606.2" x2="796.5" y2="644.0" stroke="#d4d4d4" stroke-width="0.8" opacity="1" />
<line x1="690.6" y1="599.2" x2="830.6" y2="634.3" stroke="#d4d4d4" stroke-width="0.8" opacity="1" />
<line x1="722.5" y1="592.2" x2="864.6" y2="624.7" stroke="#d4d4d4" stroke-width="0.8" opacity="1" />
<polyline points="589.5,621.5 722.6,665.0 870.5,623.0" fill="none" stroke="#4a4a4a" stroke-width="1.2" opacity="1" stroke-linejoin="round"/>
<line x1="870.5" y1="623.0" x2="871.5" y2="474.0" stroke="#4a4a4a" stroke-width="1.0" opacity="1" />
<line x1="868.0" y1="499.0" x2="874.0" y2="500.0" stroke="#4a4a4a" stroke-width="0.8" opacity="1" />
<text x="879.6" y="505.9" font-size="10.8" fill="#505050" text-anchor="start" font-family="Liberation Sans" textLength="20" lengthAdjust="spacingAndGlyphs" >0.90</text>
<line x1="868.0" y1="520.2" x2="874.0" y2="521.2" stroke="#4a4a4a" stroke-width="0.8" opacity="1" />
<text x="879.6" y="527.1" font-size="10.8" fill="#505050" text-anchor="start" font-family="Liberation Sans" textLength="20" lengthAdjust="spacingAndGlyphs" >0.85</text>
<line x1="868.0" y1="542.5" x2="874.0" y2="543.5" stroke="#4a4a4a" stroke-width="0.8" opacity="1" />
<text x="879.6" y="549.4" font-size="10.8" fill="#505050" text-anchor="start" font-family="Liberation Sans" textLength="20" lengthAdjust="spacingAndGlyphs" >0.80</text>
<line x1="868.0" y1="564.8" x2="874.0" y2="565.8" stroke="#4a4a4a" stroke-width="0.8" opacity="1" />
<text x="879.6" y="571.6999999999999" font-size="10.8" fill="#505050" text-anchor="start" font-family="Liberation Sans" textLength="20" lengthAdjust="spacingAndGlyphs" >0.75</text>
<line x1="868.0" y1="587.6" x2="874.0" y2="588.6" stroke="#4a4a4a" stroke-width="0.8" opacity="1" />
<text x="879.6" y="594.5" font-size="10.8" fill="#505050" text-anchor="start" font-family="Liberation Sans" textLength="20" lengthAdjust="spacingAndGlyphs" >0.70</text>
<line x1="868.0" y1="609.0" x2="874.0" y2="610.0" stroke="#4a4a4a" stroke-width="0.8" opacity="1" />
<text x="879.6" y="615.9" font-size="10.8" fill="#505050" text-anchor="start" font-family="Liberation Sans" textLength="20" lengthAdjust="spacingAndGlyphs" >0.65</text>
<text x="914" y="605" font-size="12.5" fill="#333" text-anchor="start" font-family="Liberation Sans" transform="rotate(-90 914 605)" textLength="92.7" lengthAdjust="spacingAndGlyphs" >Y-axis (meters)</text>
<text x="569.8" y="643.2" font-size="9.8" fill="#505050" text-anchor="start" font-family="Liberation Sans" textLength="24.40000000000009" lengthAdjust="spacingAndGlyphs" >-0.15</text>
<text x="593" y="650.0" font-size="9.8" fill="#505050" text-anchor="start" font-family="Liberation Sans" textLength="20" lengthAdjust="spacingAndGlyphs" >-0.10</text>
<text x="609" y="653.5" font-size="9.8" fill="#505050" text-anchor="start" font-family="Liberation Sans" textLength="19.5" lengthAdjust="spacingAndGlyphs" >-0.05</text>
<text x="624.6" y="659.5" font-size="9.8" fill="#505050" text-anchor="start" font-family="Liberation Sans" textLength="19.399999999999977" lengthAdjust="spacingAndGlyphs" >0.00</text>
<text x="643" y="665.5" font-size="9.8" fill="#505050" text-anchor="start" font-family="Liberation Sans" textLength="18.700000000000045" lengthAdjust="spacingAndGlyphs" >0.05</text>
<text x="660" y="670.5" font-size="9.8" fill="#505050" text-anchor="start" font-family="Liberation Sans" textLength="19" lengthAdjust="spacingAndGlyphs" >0.10</text>
<text x="679" y="677.5" font-size="9.8" fill="#505050" text-anchor="start" font-family="Liberation Sans" textLength="20" lengthAdjust="spacingAndGlyphs" >0.15</text>
<text x="700" y="683.5" font-size="9.8" fill="#505050" text-anchor="start" font-family="Liberation Sans" textLength="18.5" lengthAdjust="spacingAndGlyphs" >0.20</text>
<text x="585" y="661" font-size="12.5" fill="#333" text-anchor="start" font-family="Liberation Sans" transform="rotate(17 585 661)" textLength="91" lengthAdjust="spacingAndGlyphs" >X-axis (meters)</text>
<text x="728" y="683.5" font-size="9.8" fill="#505050" text-anchor="start" font-family="Liberation Sans" >-0.2</text>
<text x="763" y="674" font-size="9.8" fill="#505050" text-anchor="start" font-family="Liberation Sans" >0.0</text>
<text x="792.8" y="667" font-size="9.8" fill="#505050" text-anchor="start" font-family="Liberation Sans" >0.2</text>
<text x="822.4" y="658" font-size="9.8" fill="#505050" text-anchor="start" font-family="Liberation Sans" >0.4</text>
<text x="852" y="650" font-size="9.8" fill="#505050" text-anchor="start" font-family="Liberation Sans" >0.6</text>
<text x="768" y="691" font-size="12.5" fill="#333" text-anchor="start" font-family="Liberation Sans" transform="rotate(-17 768 691)" textLength="95" lengthAdjust="spacingAndGlyphs" >Z-axis (meters)</text>
<defs><clipPath id="cd2"><polygon points="672.6,397.3 796.0,405.7 797.0,521.8 762.5,527.0 672.0,500.0"/></clipPath></defs>
<polygon points="672.6,397.3 796.0,405.7 797.0,521.8 762.5,527.0 672.0,500.0" fill="#ab9bc0" stroke="none" stroke-width="1" opacity="1" />
<g clip-path="url(#cd2)">
<line x1="672.6" y1="397.3" x2="796.0" y2="405.7" stroke="#8a6a4a" stroke-width="2.0" opacity="1" />
<line x1="672.6" y1="402.0" x2="762.5" y2="417.2" stroke="#3a4ad0" stroke-width="1.6" opacity="1" />
<line x1="762.5" y1="417.2" x2="796.0" y2="408.8" stroke="#3a4ad0" stroke-width="1.6" opacity="1" />
<line x1="672.0" y1="406.0" x2="762.0" y2="420.0" stroke="#e03a6a" stroke-width="1.2" opacity="0.8" />
<line x1="673.0" y1="395.0" x2="673.0" y2="530.0" stroke="#5a4a8a" stroke-width="2.0" opacity="1" />
<line x1="710.0" y1="395.0" x2="710.0" y2="530.0" stroke="#4a3a8a" stroke-width="1.4" opacity="1" />
<line x1="762.5" y1="395.0" x2="762.5" y2="530.0" stroke="#2a5ae0" stroke-width="2.0" opacity="1" />
<line x1="758.0" y1="395.0" x2="758.0" y2="530.0" stroke="#e04a6a" stroke-width="1.2" opacity="1" />
<line x1="796.5" y1="395.0" x2="796.5" y2="530.0" stroke="#4a4ad0" stroke-width="2.2" opacity="1" />
<polyline points="672.0,500.0 762.5,527.0 797.0,521.8" fill="none" stroke="#3a4ae0" stroke-width="2.0" opacity="1" stroke-linejoin="round"/>
<line x1="724.0" y1="462.0" x2="796.0" y2="465.0" stroke="#d05070" stroke-width="1.3" opacity="0.5" />
<line x1="724.0" y1="467.0" x2="796.0" y2="470.0" stroke="#a060a0" stroke-width="1.3" opacity="0.5" />
<line x1="724.0" y1="472.0" x2="796.0" y2="475.0" stroke="#c07080" stroke-width="1.3" opacity="0.5" />
<line x1="724.0" y1="477.0" x2="796.0" y2="480.0" stroke="#8070b0" stroke-width="1.3" opacity="0.5" />
<line x1="724.0" y1="482.0" x2="796.0" y2="485.0" stroke="#d05070" stroke-width="1.3" opacity="0.5" />
<line x1="724.0" y1="487.0" x2="796.0" y2="490.0" stroke="#a060a0" stroke-width="1.3" opacity="0.5" />
<line x1="724.0" y1="492.0" x2="796.0" y2="495.0" stroke="#c07080" stroke-width="1.3" opacity="0.5" />
<line x1="724.0" y1="497.0" x2="796.0" y2="500.0" stroke="#8070b0" stroke-width="1.3" opacity="0.5" />
<line x1="724.0" y1="502.0" x2="796.0" y2="505.0" stroke="#d05070" stroke-width="1.3" opacity="0.5" />
<line x1="724.0" y1="507.0" x2="796.0" y2="510.0" stroke="#a060a0" stroke-width="1.3" opacity="0.5" />
<line x1="724.0" y1="512.0" x2="796.0" y2="515.0" stroke="#c07080" stroke-width="1.3" opacity="0.5" />
<line x1="724.0" y1="517.0" x2="796.0" y2="520.0" stroke="#8070b0" stroke-width="1.3" opacity="0.5" />
<line x1="740.0" y1="415.0" x2="740.0" y2="525.0" stroke="#d090a8" stroke-width="1.6" opacity="0.45" />
<line x1="748.0" y1="415.0" x2="748.0" y2="525.0" stroke="#80a0a8" stroke-width="1.6" opacity="0.45" />
<line x1="770.0" y1="415.0" x2="770.0" y2="525.0" stroke="#d090b0" stroke-width="1.6" opacity="0.45" />
<line x1="778.0" y1="415.0" x2="778.0" y2="525.0" stroke="#80a8b0" stroke-width="1.6" opacity="0.45" />
<line x1="786.0" y1="415.0" x2="786.0" y2="525.0" stroke="#d0a0c0" stroke-width="1.6" opacity="0.45" />
</g>
<defs><clipPath id="cd1"><polygon points="596.6,407.3 635.0,403.0 672.0,406.0 724.0,419.0 724.5,540.0 685.0,547.5 600.0,524.0"/></clipPath></defs>
<polygon points="596.6,407.3 635.0,403.0 672.0,406.0 724.0,419.0 724.5,540.0 685.0,547.5 600.0,524.0" fill="#9f91b2" stroke="none" stroke-width="1" opacity="1" />
<g clip-path="url(#cd1)">
<polygon points="672.6,397.3 796.0,405.7 797.0,521.8 762.5,527.0 672.0,500.0" fill="#7f6d9a" stroke="none" stroke-width="1" opacity="1" />
</g>
<polygon points="600.0,516.0 724.5,530.0 724.5,540.0 685.0,547.5 600.0,522.5" fill="#7f95b2" stroke="none" stroke-width="1" opacity="0.8" />
<g clip-path="url(#cd1)">
<polygon points="596.6,407.3 635.0,403.0 724.0,419.0 685.0,424.0" fill="#b0a0c0" stroke="none" stroke-width="1" opacity="0.6" />
<polyline points="596.6,407.3 635.0,403.0 672.0,407.0 724.0,418.0" fill="none" stroke="#e8503a" stroke-width="1.8" opacity="1" stroke-linejoin="round"/>
<line x1="598.0" y1="411.5" x2="724.0" y2="418.0" stroke="#8a3ad0" stroke-width="1.6" opacity="1" />
<line x1="598.0" y1="415.5" x2="724.0" y2="420.0" stroke="#3a70c0" stroke-width="1.4" opacity="1" />
<line x1="598.0" y1="419.0" x2="685.0" y2="423.0" stroke="#2a9a4a" stroke-width="1.8" opacity="1" />
<line x1="685.0" y1="423.0" x2="724.0" y2="421.0" stroke="#3a50c0" stroke-width="1.6" opacity="1" />
<line x1="597.0" y1="400.0" x2="597.0" y2="550.0" stroke="#e84a4a" stroke-width="1.8" opacity="1" />
<line x1="599.5" y1="400.0" x2="599.5" y2="550.0" stroke="#2a5a5a" stroke-width="1.6" opacity="1" />
<line x1="637.0" y1="400.0" x2="637.0" y2="550.0" stroke="#4a2a7a" stroke-width="2.0" opacity="1" />
<line x1="685.0" y1="400.0" x2="685.0" y2="550.0" stroke="#3a4ac0" stroke-width="1.8" opacity="1" />
<line x1="681.0" y1="400.0" x2="681.0" y2="550.0" stroke="#2a8a4a" stroke-width="1.2" opacity="1" />
<line x1="723.8" y1="400.0" x2="723.8" y2="550.0" stroke="#2a5ad0" stroke-width="2.0" opacity="1" />
<line x1="660.4" y1="400.0" x2="660.4" y2="550.0" stroke="#2a7a4a" stroke-width="1.4" opacity="1" />
<polyline points="600.0,519.0 685.0,541.0 724.5,534.0" fill="none" stroke="#3a8aa8" stroke-width="1.4" opacity="1" stroke-linejoin="round"/>
<polyline points="600.0,522.5 685.0,547.5 724.5,540.0" fill="none" stroke="#2a9a4a" stroke-width="2.0" opacity="1" stroke-linejoin="round"/>
<polyline points="600.0,518.0 685.0,543.0 724.5,536.0" fill="none" stroke="#3a4ac0" stroke-width="1.6" opacity="1" stroke-linejoin="round"/>
<line x1="600.0" y1="460.0" x2="724.0" y2="470.0" stroke="#c06080" stroke-width="1.0" opacity="0.5" />
<line x1="600.0" y1="468.0" x2="724.0" y2="478.0" stroke="#8070b0" stroke-width="1.0" opacity="0.5" />
<line x1="600.0" y1="476.0" x2="724.0" y2="486.0" stroke="#c07060" stroke-width="1.0" opacity="0.5" />
<line x1="600.0" y1="484.0" x2="724.0" y2="494.0" stroke="#8070b0" stroke-width="1.0" opacity="0.5" />
<line x1="600.0" y1="492.0" x2="724.0" y2="502.0" stroke="#c06080" stroke-width="1.0" opacity="0.5" />
</g>
<line x1="660.4" y1="469.0" x2="660.4" y2="609.0" stroke="#1e9a40" stroke-width="3.0" opacity="1" />
<line x1="734.1" y1="455.0" x2="734.1" y2="588.0" stroke="#1e9a40" stroke-width="3.0" opacity="1" />
<line x1="656.5" y1="466.9" x2="843.0" y2="482.4" stroke="#e03040" stroke-width="1.5" opacity="1" />
<line x1="721.5" y1="462.6" x2="846.0" y2="485.0" stroke="#e03a3a" stroke-width="1.4" opacity="1" />
<text x="733" y="455" font-size="7" fill="#d04050" text-anchor="start" font-family="Liberation Sans" textLength="85" lengthAdjust="spacingAndGlyphs" >Tag 1 Ground Truth</text>
<text x="760" y="461" font-size="6.5" fill="#3a50d0" text-anchor="start" font-family="Liberation Sans" textLength="40" lengthAdjust="spacingAndGlyphs" >Tag 2 (Sample)</text>
<line x1="611.0" y1="476.7" x2="724.0" y2="457.0" stroke="#3a3aa0" stroke-width="1.8" opacity="1" />
<line x1="611.0" y1="485.2" x2="724.0" y2="462.6" stroke="#4a3ac0" stroke-width="1.6" opacity="1" />
</g>
<rect x="64.5" y="10.5" width="371.5" height="323.5" fill="none" stroke="#c4c4c4" stroke-width="1.3"/>
<path d="M558.5,321 V11 M917,11 V321" fill="none" stroke="#c4c4c4" stroke-width="1.3"/>
<path d="M558.5,11 H917" fill="none" stroke="#eeeeee" stroke-width="1.2"/>
<path d="M72.5,382 V706.5 H447.5 V382" fill="none" stroke="#c4c4c4" stroke-width="1.3"/>
<path d="M72.5,383.5 H447.5" fill="none" stroke="#eeeeee" stroke-width="1.2"/>
<rect x="557.5" y="385" width="355.8" height="309.5" fill="none" stroke="#c4c4c4" stroke-width="1.3"/>
<rect x="223.0" y="1.6999999999999993" width="50" height="20" fill="#fff"/>
<text x="248" y="17.7" font-size="20" fill="#111" text-anchor="middle" font-family="Liberation Sans" textLength="46" lengthAdjust="spacingAndGlyphs" stroke="#111" stroke-width="0.45">Tag 1</text>
<rect x="711.35" y="0.3000000000000007" width="51.3" height="20" fill="#fff"/>
<text x="737" y="16.3" font-size="20" fill="#111" text-anchor="middle" font-family="Liberation Sans" textLength="47.3" lengthAdjust="spacingAndGlyphs" stroke="#111" stroke-width="0.45">Tag 2</text>
<rect x="175.8" y="370.4" width="168.4" height="20" fill="#fff"/>
<text x="260" y="386.4" font-size="20" fill="#111" text-anchor="middle" font-family="Liberation Sans" textLength="164.4" lengthAdjust="spacingAndGlyphs" stroke="#111" stroke-width="0.45">Offset: Tag 1 to 2</text>
<rect x="680.7" y="368" width="108.6" height="20" fill="#fff"/>
<text x="735" y="384" font-size="20" fill="#111" text-anchor="middle" font-family="Liberation Sans" textLength="104.6" lengthAdjust="spacingAndGlyphs" stroke="#111" stroke-width="0.45">Tag 1 and 2</text>
</g>
<text x="1" y="340" font-size="44" fill="#000" text-anchor="start" font-family="Liberation Serif" textLength="46.5" lengthAdjust="spacingAndGlyphs" >(a)</text>
<text x="495" y="340" font-size="44" fill="#000" text-anchor="start" font-family="Liberation Serif" textLength="48.5" lengthAdjust="spacingAndGlyphs" >(b)</text>
<text x="1" y="708" font-size="44" fill="#000" text-anchor="start" font-family="Liberation Serif" textLength="47" lengthAdjust="spacingAndGlyphs" >(c)</text>
<text x="494.5" y="708" font-size="44" fill="#000" text-anchor="start" font-family="Liberation Serif" textLength="49.5" lengthAdjust="spacingAndGlyphs" >(d)</text>
</svg></body></html>
